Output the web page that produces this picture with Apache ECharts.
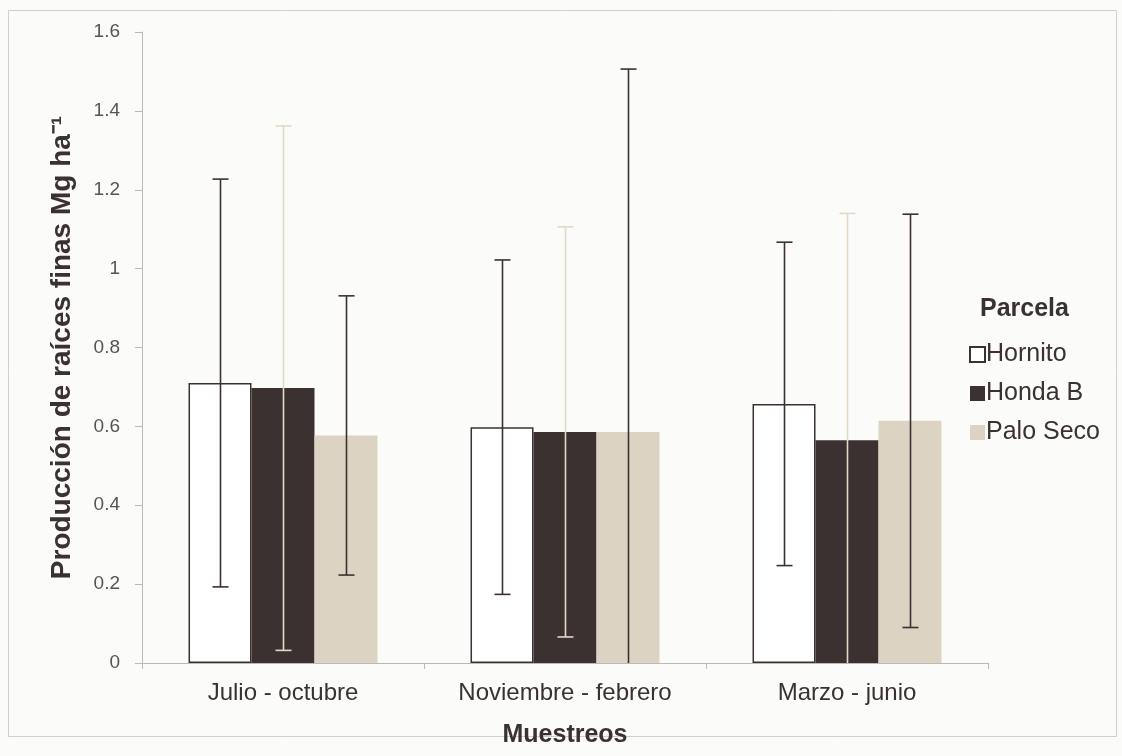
<!DOCTYPE html>
<html>
<head>
<meta charset="utf-8">
<script src="https://cdn.jsdelivr.net/npm/echarts@6/dist/echarts.min.js"></script>
<style>
html,body{margin:0;padding:0;background:#fbfbfa;}
#c{width:1122px;height:756px;}
</style>
</head>
<body>
<div id="c"></div>
<script>
const categories = ['Julio - octubre', 'Noviembre - febrero', 'Marzo - junio'];
const seriesNames = ['Hornito', 'Honda B', 'Palo Seco'];
const hornito = [0.71, 0.598, 0.657];
const hondaB = [0.697, 0.586, 0.565];
const paloSeco = [0.577, 0.586, 0.614];
const hornitoErr = [0.517, 0.424, 0.41];
const hondaBErr = [0.665, 0.52, 0.575];
const paloSecoErr = [0.354, 0.92, 0.524];
const yTicks = [0, 0.2, 0.4, 0.6, 0.8, 1, 1.2, 1.4, 1.6];

const means = [hornito, hondaB, paloSeco];
const errs = [hornitoErr, hondaBErr, paloSecoErr];
const dark = '#3c3131';
const beige = '#dcd3c2';
const fills = ['#ffffff', dark, beige];
const borders = [dark, dark, beige];
const errColors = [dark, '#e2dac8', dark];
const catGap = 0.33;
const FONT = 'Liberation Sans, Arial, sans-serif';
const txt = '#3a3232';

const chart = echarts.init(document.getElementById('c'));
const series = [];
seriesNames.forEach((n, s) => {
  series.push({
    name: n, type: 'bar', data: means[s], barGap: '0%', barCategoryGap: (catGap*100)+'%',
    itemStyle: {color: fills[s], borderColor: borders[s], borderWidth: s === 0 ? 1.5 : 0},
    z: 2
  });
});
seriesNames.forEach((n, s) => {
  series.push({
    type: 'custom', name: n + '_err', z: 5,
    data: categories.map((c, i) => [i, means[s][i], errs[s][i]]),
    renderItem: function (params, api) {
      const ci = api.value(0), m = api.value(1), e = api.value(2);
      const catW = api.size([1, 0])[0];
      const bw = catW * (1 - catGap) / 3;
      const base = api.coord([ci, 0]);
      const x = Math.round(base[0] + (s - 1) * bw) + 0.5;
      const hi = m + e, lo = Math.max(0, m - e);
      const yHi = api.coord([ci, hi])[1];
      const yLo = api.coord([ci, lo])[1];
      const cap = 8;
      const style = {stroke: errColors[s], lineWidth: 1.6, fill: null};
      const children = [
        {type: 'line', shape: {x1: x, y1: yHi, x2: x, y2: yLo}, style: style},
        {type: 'line', shape: {x1: x - cap, y1: yHi, x2: x + cap, y2: yHi}, style: style}
      ];
      if (m - e > 0) children.push({type: 'line', shape: {x1: x - cap, y1: yLo, x2: x + cap, y2: yLo}, style: style});
      return {type: 'group', children: children};
    }
  });
});

chart.setOption({
  backgroundColor: '#fbfbfa',
  animation: false,
  textStyle: {fontFamily: FONT},
  grid: {left: 142, top: 32, right: 134, bottom: 93, outerBoundsMode: 'none', containLabel: false},
  legend: {
    data: seriesNames, orient: 'vertical', left: 964, top: 337, itemWidth: 15, itemHeight: 15,
    itemGap: 14, icon: 'rect',
    textStyle: {fontSize: 25, color: txt, fontFamily: FONT, padding: [0, 0, 0, -4]}
  },
  xAxis: {
    type: 'category', data: categories,
    axisLine: {lineStyle: {color: '#b9b9b9', width: 1}},
    axisTick: {show: true, alignWithLabel: false, length: 6, lineStyle: {color: '#b9b9b9'}},
    axisLabel: {fontSize: 24, color: txt, margin: 18, fontFamily: FONT, interval: 0, hideOverlap: false},
    name: 'Muestreos', nameLocation: 'middle', nameGap: 60,
    nameTextStyle: {fontSize: 25, fontWeight: 'bold', color: txt, fontFamily: FONT}
  },
  yAxis: {
    type: 'value', min: 0, max: 1.6, interval: 0.2,
    axisLine: {show: true, lineStyle: {color: '#b9b9b9', width: 1}},
    axisTick: {show: true, length: 7, lineStyle: {color: '#b9b9b9'}},
    splitLine: {show: false},
    axisLabel: {fontSize: 19, color: '#555', margin: 22,
      formatter: function (v) { const t = yTicks.find(x => Math.abs(x - v) < 1e-9); return String(t !== undefined ? t : v); }},
    name: 'Producción de raíces finas Mg ha⁻¹', nameLocation: 'middle', nameGap: 66, nameRotate: 90,
    nameTextStyle: {fontSize: 28, fontWeight: 'bold', color: txt, fontFamily: FONT}
  },
  graphic: [
    {type: 'rect', shape: {x: 8.5, y: 10.5, width: 1108, height: 726}, style: {fill: null, stroke: '#cfcfcf', lineWidth: 1}, silent: true},
    {type: 'text', left: 980, top: 297, style: {text: 'Parcela', fontSize: 25, fontWeight: 'bold', fill: txt, fontFamily: FONT}}
  ],
  series: series
});
</script>
</body>
</html>
